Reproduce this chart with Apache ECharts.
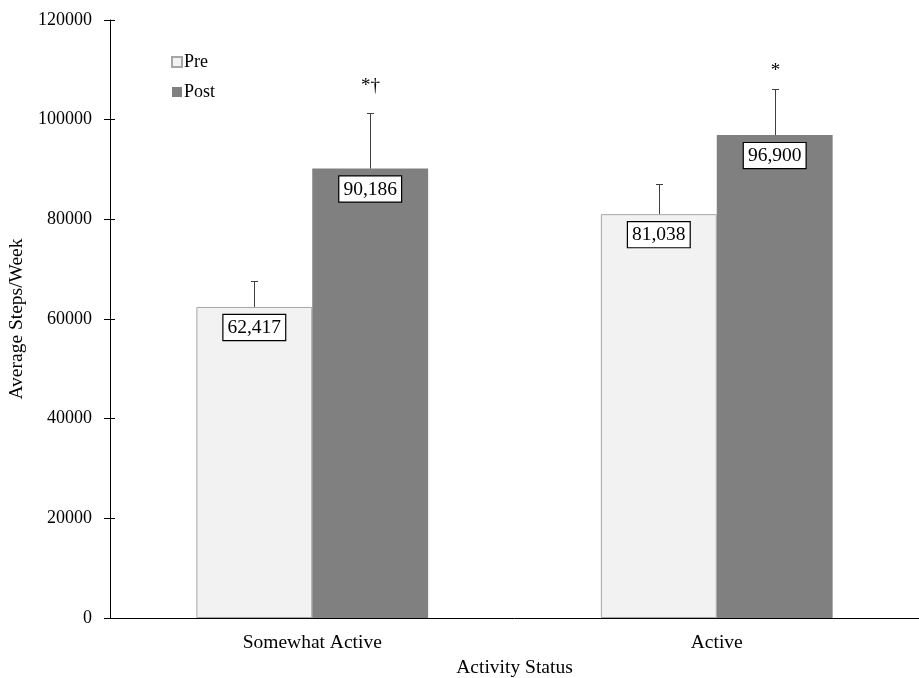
<!DOCTYPE html>
<html><head><meta charset="utf-8">
<script src="https://cdn.jsdelivr.net/npm/echarts@6/dist/echarts.min.js"></script>
<style>html,body{margin:0;padding:0;background:#fff}#c{width:919px;height:678px}</style>
</head><body><div id="c"></div>
<script>
var categories = ['Somewhat Active', 'Active'];
var preValues = [62417, 81038];
var postValues = [90186, 96900];
var preErrTop = [67600, 87050];
var postErrTop = [101300, 106100];
var postAnnot = ['*†', '*'];
var postAnnotY = [106700, 109800];
var yTicks = [0, 20000, 40000, 60000, 80000, 100000, 120000];

var FONT = 'Liberation Serif';
var chart = echarts.init(document.getElementById('c'));

function fmt(v){ return v.toLocaleString('en-US'); }

function errSeries(name, tops, offset, annots, annotY){
  return {
    type: 'custom', name: name + 'err', silent: true, z: 5,
    data: tops.map(function(t, i){ return [i, t, annots ? annotY[i] : 0]; }),
    renderItem: function(params, api){
      var i = api.value(0);
      var vals = offset < 0 ? preValues : postValues;
      var base = api.coord([i, vals[i]]);
      var top = api.coord([i, api.value(1)]);
      var bw = api.size([1, 0])[0] * 0.2865;
      var x = Math.round(base[0] + offset * bw / 2) + 0.5;
      var children = [
        {type:'line', shape:{x1:x, y1:base[1], x2:x, y2:top[1]}, style:{stroke:'#404040', lineWidth:1}},
        {type:'line', shape:{x1:x-3.5, y1:Math.round(top[1])+0.5, x2:x+3.5, y2:Math.round(top[1])+0.5}, style:{stroke:'#404040', lineWidth:1}}
      ];
      if (annots) {
        var ay = api.coord([i, api.value(2)]);
        children.push({type:'text', style:{text: annots[i], x: x, y: ay[1], align:'center', verticalAlign:'middle', font:'19px "' + FONT + '"', fill:'#000'}});
      }
      return {type:'group', children: children};
    }
  };
}

var labelStyle = {
  show: true, position: 'insideTop', distance: 8,
  formatter: function(p){ return fmt(p.value); },
  fontFamily: FONT, fontSize: 19.5, color: '#000',
  backgroundColor: '#fff', borderColor: '#000', borderWidth: 1.2,
  padding: [3, 4, 2, 4]
};

chart.setOption({
  animation: false,
  textStyle: {fontFamily: FONT},
  grid: {left: 110, right: 0, top: 20, bottom: 60, containLabel: false, outerBoundsMode: 'none'},
  legend: {
    orient: 'vertical', left: 166, top: 48, itemGap: 12,
    itemWidth: 10, itemHeight: 10, icon: 'rect',
    textStyle: {fontFamily: FONT, fontSize: 18, color: '#000', padding: [0,0,0,-3]},
    data: ['Pre', 'Post']
  },
  xAxis: {
    type: 'category', data: categories,
    name: 'Activity Status', nameLocation: 'middle', nameGap: 32,
    nameTextStyle: {fontFamily: FONT, fontSize: 19.5, color: '#000'},
    axisLine: {lineStyle: {color: '#000', width: 1}},
    axisTick: {show: false},
    axisLabel: {fontFamily: FONT, fontSize: 19.5, color: '#000', margin: 15}
  },
  yAxis: [{
    type: 'value', min: 0, max: 120000, interval: 20000,
    name: 'Average Steps/Week', nameLocation: 'middle', nameGap: 79,
    nameTextStyle: {fontFamily: FONT, fontSize: 19.5, color: '#000'},
    axisLine: {show: true, lineStyle: {color: '#000', width: 1}},
    axisTick: {show: true, length: 6, lineStyle: {color: '#000'}},
    axisLabel: {fontFamily: FONT, fontSize: 18, color: '#000', margin: 18,
      formatter: function(v){ return yTicks.indexOf(v) >= 0 ? String(v) : ''; }},
    splitLine: {show: false}
  }, {
    type: 'value', min: 0, max: 120000, interval: 20000, position: 'left',
    axisLine: {show: false}, axisLabel: {show: false}, splitLine: {show: false},
    axisTick: {show: true, inside: true, length: 5, lineStyle: {color: '#000'}}
  }],
  series: [
    {name: 'Pre', type: 'bar', data: preValues, barWidth: '28.65%', barGap: '0%',
     itemStyle: {color: '#f2f2f2', borderColor: '#a6a6a6', borderWidth: 1},
     label: labelStyle},
    {name: 'Post', type: 'bar', data: postValues, barWidth: '28.65%', barGap: '0%',
     itemStyle: {color: '#808080', borderColor: '#808080', borderWidth: 0},
     label: labelStyle},
    errSeries('Pre', preErrTop, -1, null, null),
    errSeries('Post', postErrTop, 1, postAnnot, postAnnotY)
  ]
});
</script></body></html>
